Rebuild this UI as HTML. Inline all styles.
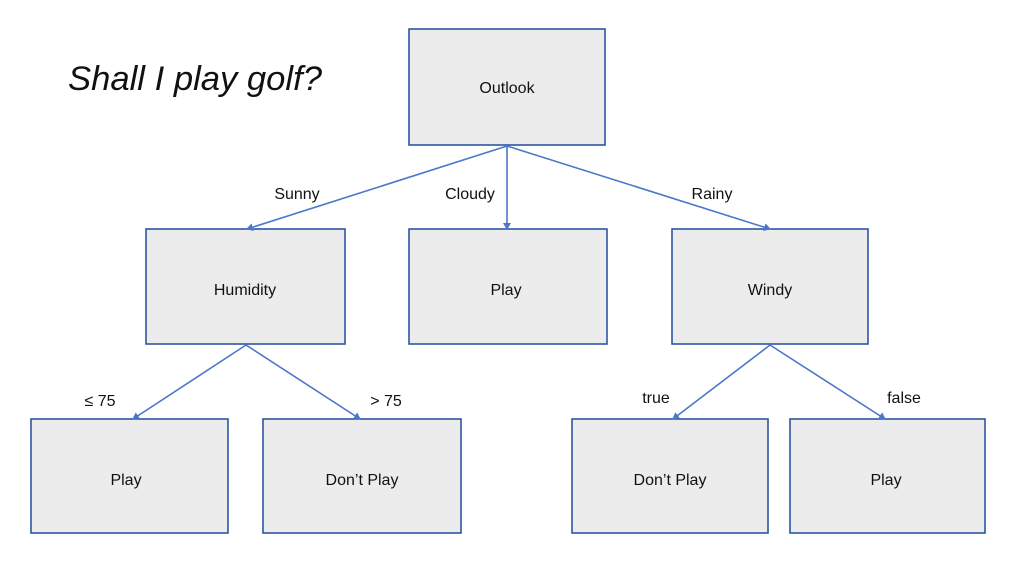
<!DOCTYPE html>
<html><head><meta charset="utf-8"><style>
body{margin:0;width:1018px;height:560px;background:#fff;overflow:hidden;font-family:"Liberation Sans",sans-serif}
</style></head><body>
<svg width="1018" height="560" xmlns="http://www.w3.org/2000/svg" font-family="Liberation Sans, sans-serif">
<defs><marker id="a" markerWidth="8" markerHeight="8" refX="6" refY="4" orient="auto" markerUnits="userSpaceOnUse"><path d="M0,0 L7,4 L0,8 z" fill="#4a78c8"/></marker></defs>
<text x="68" y="90" font-size="34" font-style="italic" fill="#111" textLength="254" lengthAdjust="spacingAndGlyphs">Shall I play golf?</text>
<g fill="#ececec" stroke="#2f55a4" stroke-width="1.6">
<rect x="409" y="29" width="196" height="116"/>
<rect x="146" y="229" width="199" height="115"/>
<rect x="409" y="229" width="198" height="115"/>
<rect x="672" y="229" width="196" height="115"/>
<rect x="31" y="419" width="197" height="114"/>
<rect x="263" y="419" width="198" height="114"/>
<rect x="572" y="419" width="196" height="114"/>
<rect x="790" y="419" width="195" height="114"/>
</g>
<g stroke="#4a78c8" stroke-width="1.6" fill="none" marker-end="url(#a)">
<line x1="507" y1="146" x2="247" y2="229"/>
<line x1="507" y1="146" x2="507" y2="229"/>
<line x1="507" y1="146" x2="770" y2="229"/>
<line x1="246" y1="345" x2="133" y2="419"/>
<line x1="246" y1="345" x2="360" y2="419"/>
<line x1="770" y1="345" x2="673" y2="419"/>
<line x1="770" y1="345" x2="885" y2="419"/>
</g>
<g font-size="16" fill="#111" text-anchor="middle">
<text x="507" y="93">Outlook</text>
<text x="245" y="295">Humidity</text>
<text x="506" y="295">Play</text>
<text x="770" y="295">Windy</text>
<text x="126" y="485">Play</text>
<text x="362" y="485">Don’t Play</text>
<text x="670" y="485">Don’t Play</text>
<text x="886" y="485">Play</text>
<text x="297" y="199">Sunny</text>
<text x="470" y="199">Cloudy</text>
<text x="712" y="199">Rainy</text>
<text x="100" y="406">≤ 75</text>
<text x="386" y="406">&gt; 75</text>
<text x="656" y="403">true</text>
<text x="904" y="403">false</text>
</g>
</svg>
</body></html>
